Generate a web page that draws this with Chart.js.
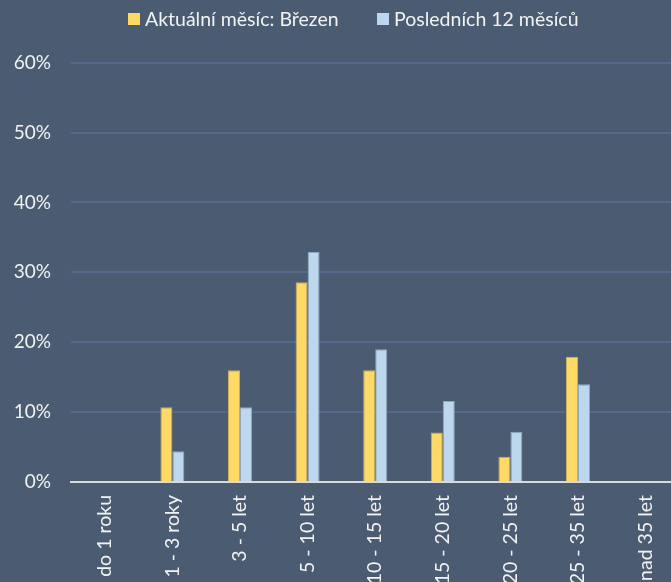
<!DOCTYPE html>
<html>
<head>
<meta charset="utf-8">
<script src="https://cdn.jsdelivr.net/npm/chart.js@4.4.1/dist/chart.umd.min.js"></script>
<style>
  html, body { margin: 0; padding: 0; background: #4B5B72; overflow: hidden; width: 671px; height: 582px; }
  #wrap { position: absolute; left: 0; top: 0; width: 740px; height: 620px; }
</style>
</head>
<body>
<div id="wrap"><canvas id="c" width="740" height="620"></canvas></div>
<script>
const categories = ['do 1 roku', '1 - 3 roky', '3 - 5 let', '5 - 10 let', '10 - 15 let', '15 - 20 let', '20 - 25 let', '25 - 35 let', 'nad 35 let'];
const seriesNames = ['Aktuální měsíc: Březen', 'Posledních 12 měsíců'];
const currentMonth = [0, 10.7, 16.0, 28.6, 16.0, 7.1, 3.6, 17.9, 0];
const last12Months = [0, 4.4, 10.7, 32.9, 19.0, 11.6, 7.2, 14.0, 0.1];
const yTickValues = [0, 10, 20, 30, 40, 50, 60];

const FONT = 'Lato';
const TEXT = '#F2F2F2';

const legendPlugin = {
  id: 'customLegend',
  afterDraw(chart) {
    const ctx = chart.ctx;
    ctx.save();
    ctx.font = '19.5px ' + FONT;
    ctx.textBaseline = 'middle';
    ctx.textAlign = 'left';
    const boxX = [128, 377];
    chart.data.datasets.forEach((ds, i) => {
      ctx.fillStyle = ds.backgroundColor;
      ctx.fillRect(boxX[i], 13, 12, 12);
      ctx.fillStyle = TEXT;
      ctx.fillText(ds.label, boxX[i] + 17, 19.5);
    });
    ctx.restore();
  }
};

new Chart(document.getElementById('c'), {
  type: 'bar',
  data: {
    labels: categories,
    datasets: [
      { label: seriesNames[0], data: currentMonth, backgroundColor: '#FFD966', borderColor: '#C9AE5C', borderWidth: 1 },
      { label: seriesNames[1], data: last12Months, backgroundColor: '#BDD7EE', borderColor: '#8EA6C2', borderWidth: 1 }
    ]
  },
  options: {
    responsive: false,
    animation: false,
    layout: { padding: { top: 62.7, right: 60.6, left: 0, bottom: 0 } },
    datasets: { bar: { categoryPercentage: 0.355, barPercentage: 1 } },
    plugins: { legend: { display: false }, tooltip: { enabled: false } },
    scales: {
      x: {
        grid: { display: false, drawTicks: false },
        border: { display: true, color: '#D9D9D9', width: 2 },
        ticks: { color: TEXT, font: { family: FONT, size: 19.5 }, minRotation: 90, maxRotation: 90, padding: 13, autoSkip: false },
        afterFit(scale) { scale.height = 138; }
      },
      y: {
        min: 0, max: 60,
        afterBuildTicks(scale) { scale.ticks = yTickValues.map(v => ({ value: v })); },
        grid: { color: '#56698A', lineWidth: 2, drawTicks: false },
        border: { display: false },
        ticks: { color: TEXT, font: { family: FONT, size: 19 }, padding: 20, callback: v => v + '%' },
        afterFit(scale) { scale.width = 71; }
      }
    }
  },
  plugins: [legendPlugin]
});
</script>
</body>
</html>
